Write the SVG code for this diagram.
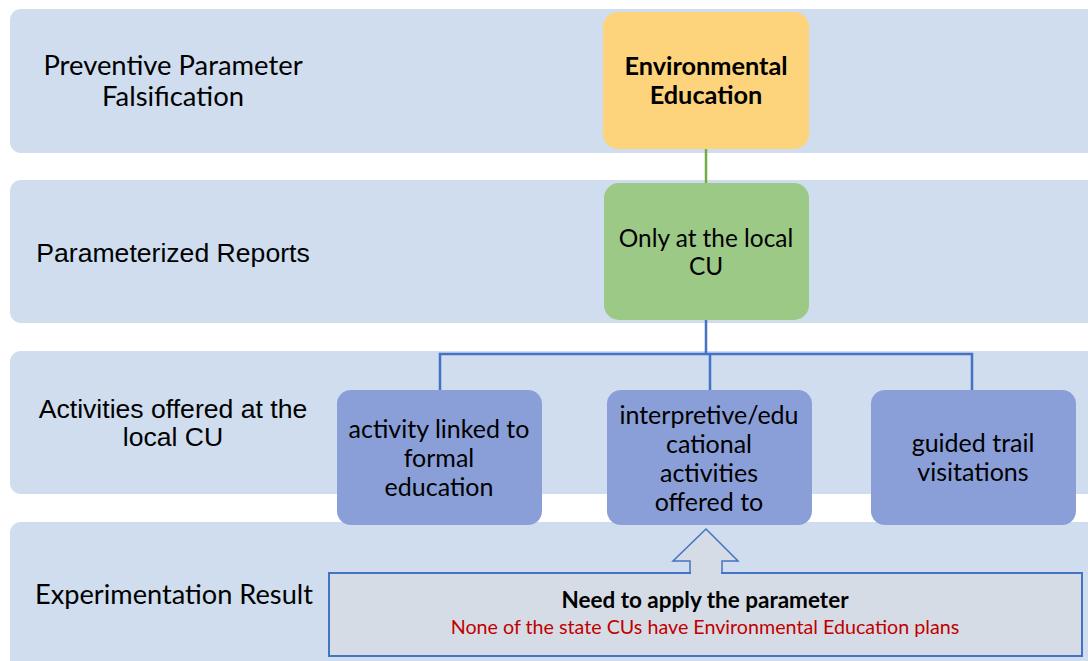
<svg xmlns="http://www.w3.org/2000/svg" width="1088" height="661" viewBox="0 0 1088 661">
<style>
.band{fill:#CFDDEE}
.cal{font-family:Lato,"Open Sans",sans-serif;fill:#000}
.ari{font-family:"Liberation Sans",Arial,sans-serif;fill:#000}
.lbl{font-size:27px}
.node{font-size:25px}
.act{fill:#8A9FD8}
.conn{fill:none;stroke-width:2.5}
</style>
<rect width="1088" height="661" fill="#fff"/>
<g id="bands">
<rect class="band" x="10" y="9" width="1100" height="144" rx="11"/>
<rect class="band" x="10" y="180" width="1100" height="143" rx="11"/>
<rect class="band" x="10" y="351" width="1100" height="143" rx="11"/>
<rect class="band" x="10" y="522" width="1100" height="160" rx="11"/>
</g>
<g id="labels" text-anchor="middle">
<text class="cal" x="173" y="75" font-size="27.4">Preventive Parameter</text>
<text class="cal" x="173" y="106" font-size="27.4">Falsification</text>
<text class="ari" x="173" y="262" font-size="26.6">Parameterized Reports</text>
<text class="ari" x="173" y="418" font-size="26.6">Activities offered at the</text>
<text class="ari" x="173" y="446" font-size="26.6">local CU</text>
<text class="cal" x="174" y="604" font-size="27.2">Experimentation Result</text>
</g>
<g id="connectors">
<line class="conn" x1="706" y1="149" x2="706" y2="184" stroke="#70AD47"/>
<path class="conn" d="M706 320 V354 M440 390 V354 H972 V390 M710 354 V390" stroke="#4472C4"/>
</g>
<g id="env-edu">
<rect x="603" y="12" width="206" height="137" rx="15" fill="#FDD47B"/>
<text class="cal" x="706" y="75" text-anchor="middle" font-size="25.3" font-weight="bold">Environmental</text>
<text class="cal" x="706" y="104" text-anchor="middle" font-size="25.3" font-weight="bold">Education</text>
</g>
<g id="local-cu">
<rect x="604" y="183" width="205" height="137" rx="15" fill="#9DC987"/>
<text class="cal" x="706" y="247" text-anchor="middle" font-size="24.4">Only at the local</text>
<text class="cal" x="706" y="275" text-anchor="middle" font-size="24.4">CU</text>
</g>
<g id="act-formal">
<rect class="act" x="337" y="390" width="205" height="135" rx="14"/>
<text class="cal node" x="439" y="438" text-anchor="middle">activity linked to</text>
<text class="cal node" x="439" y="467" text-anchor="middle">formal</text>
<text class="cal node" x="439" y="496" text-anchor="middle">education</text>
</g>
<g id="act-interp">
<rect class="act" x="607" y="390" width="205" height="135" rx="14"/>
<text class="cal node" x="709" y="424" text-anchor="middle">interpretive/edu</text>
<text class="cal node" x="709" y="453" text-anchor="middle">cational</text>
<text class="cal node" x="709" y="482" text-anchor="middle">activities</text>
<text class="cal node" x="709" y="511" text-anchor="middle">offered to</text>
</g>
<g id="act-trail">
<rect class="act" x="871" y="390" width="205" height="135" rx="14"/>
<text class="cal node" x="973" y="452" text-anchor="middle">guided trail</text>
<text class="cal node" x="973" y="481" text-anchor="middle">visitations</text>
</g>
<g id="result">
<path d="M706 529 L738 561 L722 561 L722 575 L690 575 L690 561 L673 561 Z" fill="#D6DCE5" stroke="#4472C4" stroke-width="1.5"/>
<rect x="329" y="573" width="753" height="83" fill="#D6DCE5" stroke="#4472C4" stroke-width="2"/>
<rect x="691" y="572" width="30" height="3" fill="#D6DCE5"/>
<text class="cal" x="705" y="608" text-anchor="middle" font-size="22.5" font-weight="bold">Need to apply the parameter</text>
<text class="cal" x="705" y="634" text-anchor="middle" font-size="19.7" style="fill:#C00000">None of the state CUs have Environmental Education plans</text>
</g>
</svg>
